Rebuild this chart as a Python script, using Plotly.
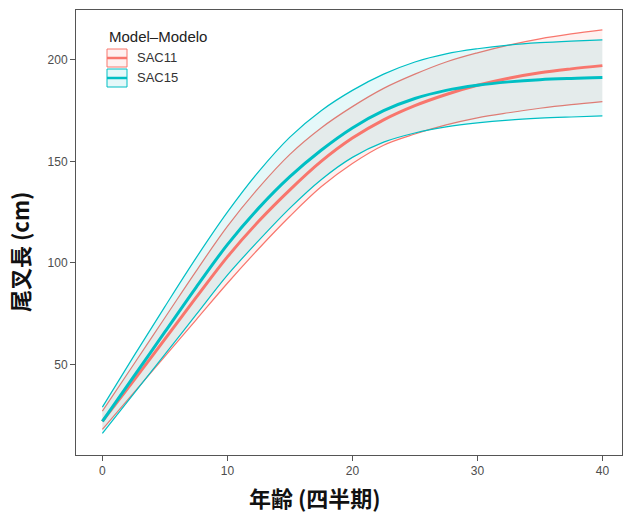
import plotly.graph_objects as go

# ---- data ----
age = [0, 2.5, 5, 7.5, 10, 12.5, 15, 17.5, 20, 22.5, 25, 27.5, 30, 32.5, 35, 37.5, 40]

sac11_mean  = [22, 42, 62.5, 83, 103, 120.5, 136, 150, 161.5, 170.5, 177.5, 183, 187.5, 191, 193.7, 195.6, 197.2]
sac11_upper = [27, 50, 73, 96, 118, 137, 153.5, 166.5, 177, 186, 193, 199, 203.5, 207.3, 210.4, 212.8, 214.8]
sac11_lower = [18, 36, 54, 72, 90, 107, 123, 137.5, 149, 158, 163.5, 168, 171.5, 174, 176.2, 178, 179.5]

sac15_mean  = [22, 44, 66, 88, 109, 127, 142.5, 155.5, 166.5, 175, 181, 185, 187.5, 189.2, 190.3, 190.9, 191.3]
sac15_upper = [29, 54, 78.5, 102.5, 125, 145, 162, 175, 185, 193, 199, 203, 205.5, 207.3, 208.5, 209.3, 209.9]
sac15_lower = [16, 35.5, 55, 74.5, 94, 111, 127, 141, 152, 159.5, 164, 167, 169, 170.4, 171.3, 171.9, 172.4]

series_names = ["SAC11", "SAC15"]
x_ticks = [0, 10, 20, 30, 40]
y_ticks = [50, 100, 150, 200]

RED = "#F8766D"
TEAL = "#00BFC4"
RED_FILL = "rgba(248,118,109,0.10)"
TEAL_FILL = "rgba(0,191,196,0.10)"

series = [
    (series_names[0], sac11_mean, sac11_upper, sac11_lower, RED, RED_FILL),
    (series_names[1], sac15_mean, sac15_upper, sac15_lower, TEAL, TEAL_FILL),
]

fig = go.Figure()
for name, mean, up, lo, col, fcol in series:
    fig.add_trace(go.Scatter(x=age, y=lo, mode="lines", line=dict(color=col, width=1.2, shape="spline"),
                             showlegend=False, hoverinfo="skip"))
    fig.add_trace(go.Scatter(x=age, y=up, mode="lines", line=dict(color=col, width=1.2, shape="spline"),
                             fill="tonexty", fillcolor=fcol, showlegend=False, hoverinfo="skip"))
for name, mean, up, lo, col, fcol in series:
    fig.add_trace(go.Scatter(x=age, y=mean, mode="lines", name=name,
                             line=dict(color=col, width=3, shape="spline"), showlegend=False))

W, H = 625, 516
L, R, T, B = 76, 3, 10, 61
pw, ph = W - L - R, H - T - B

def px(xp):
    return (xp - L) / pw

def py(yp):
    return 1 - (yp - T) / ph

shapes = []
annotations = []
# manual legend in ggplot style
annotations.append(dict(x=px(107), y=py(36), xref="paper", yref="paper", text="Model\u2013Modelo",
                        showarrow=False, xanchor="left", yanchor="middle",
                        font=dict(family="Liberation Sans, Arial", size=15, color="#222222")))
for i, (name, mean, up, lo, col, fcol) in enumerate(series):
    y0 = 49 + i * 20
    y1 = y0 + 18
    shapes.append(dict(type="rect", xref="paper", yref="paper", x0=px(107), x1=px(127),
                       y0=py(y1), y1=py(y0), line=dict(color=col, width=1), fillcolor=fcol))
    shapes.append(dict(type="line", xref="paper", yref="paper", x0=px(107), x1=px(127),
                       y0=py((y0 + y1) / 2), y1=py((y0 + y1) / 2), line=dict(color=col, width=2.5)))
    annotations.append(dict(x=px(135), y=py((y0 + y1) / 2), xref="paper", yref="paper", text=name,
                            showarrow=False, xanchor="left", yanchor="middle",
                            font=dict(family="Liberation Sans, Arial", size=13, color="#333333")))

# axis titles
annotations.append(dict(x=px(315), y=py(497), xref="paper", yref="paper", text="<b>年齢 (四半期)</b>",
                        showarrow=False, xanchor="center", yanchor="middle",
                        font=dict(family="Noto Sans CJK JP", size=22, color="#111111")))
annotations.append(dict(x=px(19), y=py(252), xref="paper", yref="paper", text="<b>尾叉長 (cm)</b>",
                        showarrow=False, xanchor="center", yanchor="middle", textangle=-90,
                        font=dict(family="Noto Sans CJK JP", size=22, color="#111111")))

axis_common = dict(showgrid=False, zeroline=False, showline=True, mirror=True,
                   linecolor="#555555", linewidth=1, ticks="outside", ticklen=5,
                   tickcolor="#555555", tickwidth=1,
                   tickfont=dict(family="Liberation Sans, Arial", size=12, color="#4d4d4d"))

fig.update_layout(
    width=W, height=H,
    margin=dict(l=L, r=R, t=T, b=B),
    paper_bgcolor="white", plot_bgcolor="white",
    showlegend=False,
    xaxis=dict(range=[-2.11, 41.57], tickvals=x_ticks, **axis_common),
    yaxis=dict(range=[5.4, 224.6], tickvals=y_ticks, **axis_common),
    shapes=shapes, annotations=annotations,
)

fig.write_html("out.html", config={"displayModeBar": False},
               post_script="document.body.style.margin='0';document.body.style.overflow='hidden';")
